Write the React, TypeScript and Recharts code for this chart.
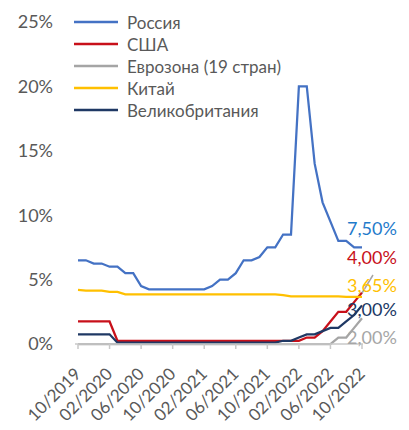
import React from 'react';
import { LineChart, Line, XAxis, YAxis, Legend } from 'recharts';

const FONT = 'Lato, "Noto Sans", sans-serif';

const months = [
    '10/2019', '11/2019', '12/2019', '01/2020', '02/2020', '03/2020', '04/2020', '05/2020',
    '06/2020', '07/2020', '08/2020', '09/2020', '10/2020', '11/2020', '12/2020', '01/2021',
    '02/2021', '03/2021', '04/2021', '05/2021', '06/2021', '07/2021', '08/2021', '09/2021',
    '10/2021', '11/2021', '12/2021', '01/2022', '02/2022', '03/2022', '04/2022', '05/2022',
    '06/2022', '07/2022', '08/2022', '09/2022', '10/2022',
];

const russia = [
    6.5, 6.5, 6.25, 6.25, 6.0, 6.0, 5.5, 5.5, 4.5, 4.25, 4.25, 4.25, 4.25, 4.25, 4.25, 4.25,
    4.25, 4.5, 5.0, 5.0, 5.5, 6.5, 6.5, 6.75, 7.5, 7.5, 8.5, 8.5, 20, 20, 14, 11,
    9.5, 8, 8, 7.5, 7.5,
];
const usa = [
    1.75, 1.75, 1.75, 1.75, 1.75, 0.25, 0.25, 0.25, 0.25, 0.25, 0.25, 0.25, 0.25, 0.25, 0.25, 0.25,
    0.25, 0.25, 0.25, 0.25, 0.25, 0.25, 0.25, 0.25, 0.25, 0.25, 0.25, 0.25, 0.25, 0.5, 0.5, 1.0,
    1.75, 2.5, 2.5, 3.25, 4.0,
];
const eurozone = [
    0, 0, 0, 0, 0, 0, 0, 0, 0, 0, 0, 0, 0, 0, 0, 0,
    0, 0, 0, 0, 0, 0, 0, 0, 0, 0, 0, 0, 0, 0, 0, 0,
    0, 0.5, 0.5, 1.25, 2.0,
];
const china = [
    4.2, 4.15, 4.15, 4.15, 4.05, 4.05, 3.85, 3.85, 3.85, 3.85, 3.85, 3.85, 3.85, 3.85, 3.85, 3.85,
    3.85, 3.85, 3.85, 3.85, 3.85, 3.85, 3.85, 3.85, 3.85, 3.85, 3.8, 3.7, 3.7, 3.7, 3.7, 3.7,
    3.7, 3.7, 3.65, 3.65, 3.65,
];
const uk = [
    0.75, 0.75, 0.75, 0.75, 0.75, 0.1, 0.1, 0.1, 0.1, 0.1, 0.1, 0.1, 0.1, 0.1, 0.1, 0.1,
    0.1, 0.1, 0.1, 0.1, 0.1, 0.1, 0.1, 0.1, 0.1, 0.1, 0.25, 0.25, 0.5, 0.75, 0.75, 1.0,
    1.25, 1.25, 1.75, 2.25, 3.0,
];

const yTicks = [0, 5, 10, 15, 20, 25];

const SERIES = [
    { key: 'russia', name: 'Россия', color: '#4472C4', labelColor: '#1F7BCB', dy: -19 },
    { key: 'usa', name: 'США', color: '#C8101A', labelColor: '#C8101A', dy: -35 },
    { key: 'eurozone', name: 'Еврозона (19 стран)', color: '#A5A5A5', labelColor: '#A6A6A6', dy: 19 },
    { key: 'china', name: 'Китай', color: '#FFC000', labelColor: '#FFC000', dy: -12 },
    { key: 'uk', name: 'Великобритания', color: '#1F3864', labelColor: '#203864', dy: 4 },
];

const data = months.map((m, i) => ({
    month: m,
    russia: russia[i],
    usa: usa[i],
    eurozone: eurozone[i],
    china: china[i],
    uk: uk[i],
}));

const LAST = months.length - 1;

const makeEndLabel = (color: string, dy: number, leader: boolean) => (props: any) => {
    const { x, y, index, value } = props;
    if (index !== LAST) return null;
    const text = Number(value).toFixed(2).replace('.', ',') + '%';
    return (
        <g>
            {leader && (
                <line x1={x} y1={y - 4} x2={x + 11} y2={y - 22} stroke="#A5A5A5" strokeWidth={1.5} />
            )}
            <text x={x - 15} y={y + dy} fill={color} fontSize={18} fontFamily={FONT} dominantBaseline="central">
                {text}
            </text>
        </g>
    );
};

const XTick = ({ x, y, payload }: any) => (
    <text
        x={x + 4}
        y={y + 24}
        transform={`rotate(-45, ${x + 4}, ${y + 24})`}
        textAnchor="end"
        fill="#595959"
        fontSize={17}
        fontFamily={FONT}
    >
        {payload.value}
    </text>
);

const renderLegend = () => (
    <div style={{ fontFamily: FONT, fontSize: 17, color: '#595959' }}>
        {SERIES.map((s) => (
            <div key={s.key} style={{ display: 'flex', alignItems: 'center', height: 22 }}>
                <svg width={44} height={4} style={{ marginRight: 9 }}>
                    <line x1={0} y1={2} x2={44} y2={2} stroke={s.color} strokeWidth={2.5} />
                </svg>
                <span>{s.name}</span>
            </div>
        ))}
    </div>
);

const App: React.FC = () => {
    return (
        <div style={{ position: 'absolute', left: 0, top: 0, width: 409, height: 430, background: '#fff' }}>
            <LineChart width={409} height={430} data={data} margin={{ top: 22, right: 46, bottom: 0, left: 0 }}>
                <XAxis
                    dataKey="month"
                    interval={3}
                    height={86}
                    padding={{ left: 3, right: 1 }}
                    stroke="#C8C8C8"
                    strokeWidth={1.5}
                    tickSize={5}
                    tick={<XTick />}
                />
                <YAxis
                    domain={[0, 25]}
                    ticks={yTicks}
                    width={75}
                    axisLine={false}
                    tickLine={false}
                    tickSize={0}
                    tickMargin={22}
                    tickFormatter={(v: number) => `${v}%`}
                    tick={{ fill: '#595959', fontSize: 18, fontFamily: FONT }}
                />
                <Legend
                    layout="vertical"
                    align="center"
                    verticalAlign="middle"
                    wrapperStyle={{ top: 11, left: 74, width: 260 }}
                    content={renderLegend}
                />
                {SERIES.map((s) => (
                    <Line
                        key={s.key}
                        type="linear"
                        dataKey={s.key}
                        name={s.name}
                        stroke={s.color}
                        strokeWidth={2.25}
                        dot={false}
                        activeDot={false}
                        isAnimationActive={false}
                        label={makeEndLabel(s.labelColor, s.dy, s.key === 'china')}
                    />
                ))}
            </LineChart>
        </div>
    );
};

export default App;
